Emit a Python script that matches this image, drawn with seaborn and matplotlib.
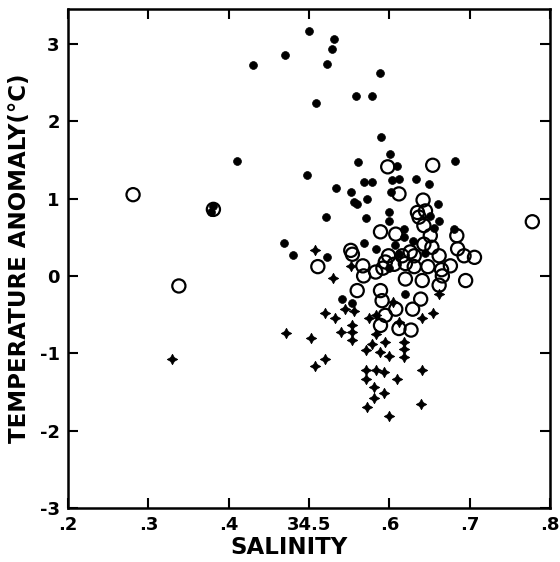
import matplotlib
matplotlib.use("Agg")
import matplotlib.pyplot as plt
import seaborn as sns

# filled dots
dot_sal = [0.500, 0.531, 0.529, 0.470, 0.430, 0.523, 0.589, 0.558, 0.579, 0.509,
           0.590, 0.410, 0.561, 0.601, 0.609, 0.682, 0.498, 0.534, 0.569, 0.579,
           0.552, 0.556, 0.560, 0.572, 0.602, 0.603, 0.612, 0.633, 0.649, 0.660,
           0.521, 0.571, 0.600, 0.600, 0.381, 0.378, 0.469, 0.480, 0.569, 0.523,
           0.680, 0.618, 0.618, 0.662, 0.583, 0.541, 0.620, 0.650, 0.655, 0.607,
           0.612, 0.600, 0.630, 0.645, 0.554]
dot_temp = [3.17, 3.06, 2.93, 2.86, 2.72, 2.74, 2.62, 2.32, 2.32, 2.23,
            1.80, 1.48, 1.47, 1.57, 1.42, 1.48, 1.30, 1.14, 1.22, 1.22,
            1.09, 0.95, 0.93, 0.99, 1.08, 1.24, 1.25, 1.25, 1.19, 0.93,
            0.76, 0.75, 0.82, 0.71, 0.90, 0.82, 0.43, 0.27, 0.43, 0.24,
            0.61, 0.61, 0.50, 0.71, 0.35, -0.30, -0.23, 0.78, 0.62, 0.40,
            0.28, 0.10, 0.45, 0.30, -0.35]

# open circles
circ_sal = [0.281, 0.778, 0.338, 0.381, 0.654, 0.598, 0.612, 0.642, 0.645, 0.637,
            0.643, 0.589, 0.684, 0.685, 0.693, 0.706, 0.554, 0.567, 0.511, 0.651,
            0.653, 0.599, 0.616, 0.631, 0.662, 0.676, 0.695, 0.552, 0.568, 0.560,
            0.589, 0.620, 0.641, 0.662, 0.635, 0.606, 0.620, 0.631, 0.648, 0.665,
            0.592, 0.583, 0.595, 0.608, 0.612, 0.627, 0.639, 0.589, 0.666, 0.591,
            0.629, 0.643, 0.595, 0.608, 0.626]
circ_temp = [1.05, 0.70, -0.13, 0.86, 1.43, 1.41, 1.06, 0.98, 0.84, 0.76,
             0.65, 0.57, 0.52, 0.35, 0.26, 0.24, 0.28, 0.13, 0.12, 0.52,
             0.37, 0.26, 0.26, 0.26, 0.26, 0.13, -0.06, 0.33, 0.00, -0.19,
             -0.19, -0.04, -0.06, -0.12, 0.82, 0.15, 0.16, 0.12, 0.12, 0.08,
             0.10, 0.05, -0.51, -0.43, -0.68, -0.70, -0.30, -0.64, 0.00, -0.32,
             -0.43, 0.41, 0.18, 0.54, 0.31]

# plus marks
plus_sal = [0.329, 0.471, 0.503, 0.508, 0.520, 0.530, 0.520, 0.532, 0.540, 0.553,
            0.553, 0.553, 0.545, 0.556, 0.552, 0.507, 0.571, 0.579, 0.571, 0.571,
            0.584, 0.593, 0.610, 0.641, 0.581, 0.593, 0.581, 0.572, 0.600, 0.640,
            0.654, 0.662, 0.575, 0.583, 0.589, 0.600, 0.604, 0.612, 0.641, 0.618,
            0.618, 0.618, 0.583, 0.594]
plus_temp = [-1.08, -0.74, -0.80, -1.16, -1.07, -0.03, -0.48, -0.54, -0.73, -0.64,
             -0.73, -0.83, -0.43, -0.46, 0.13, 0.33, -0.96, -0.88, -1.22, -1.33,
             -1.22, -1.24, -1.33, -1.21, -1.43, -1.51, -1.58, -1.69, -1.81, -1.65,
             -0.48, -0.23, -0.55, -0.51, -0.98, -1.03, -0.34, -0.60, -0.55, -0.85,
             -0.95, -1.05, -0.75, -0.85]

x_ticks = [0.2, 0.3, 0.4, 0.5, 0.6, 0.7, 0.8]
x_labels = [".2", ".3", ".4", "34.5", ".6", ".7", ".8"]
y_ticks = [-3, -2, -1, 0, 1, 2, 3]
y_labels = ["-3", "-2", "-1", "0", "1", "2", "3"]

sns.set_style("ticks")
plt.rcParams["font.family"] = ["DejaVu Sans"]
plt.rcParams.update({"text.color": "black", "axes.labelcolor": "black",
                     "xtick.color": "black", "ytick.color": "black",
                     "axes.edgecolor": "black"})

fig = plt.figure(figsize=(5.6, 5.62), dpi=100)
ax = fig.add_axes([68 / 560, 54 / 562, 482 / 560, 499 / 562])

# hollow circles: draw then clear the face so overlaps show through
sns.scatterplot(x=circ_sal, y=circ_temp, ax=ax, marker="o", s=90,
                color="black", edgecolor="black", linewidth=1.6, zorder=2)
ax.collections[-1].set_facecolor("none")
sns.scatterplot(x=dot_sal, y=dot_temp, ax=ax, marker="o", s=32,
                color="black", edgecolor="black", linewidth=0.5, zorder=3)
sns.scatterplot(x=plus_sal, y=plus_temp, ax=ax, marker=(4, 1, 0), s=55,
                color="black", edgecolor="black", linewidth=0.6, zorder=3)

ax.set_xlim(0.2, 0.8)
ax.set_ylim(-3, 3.45)
ax.set_xticks(x_ticks)
ax.set_xticklabels(x_labels)
ax.set_yticks(y_ticks)
ax.set_yticklabels(y_labels)
ax.tick_params(direction="in", length=7, width=1.5, top=True, right=True,
               labelsize=13, pad=6)
for lab in ax.get_xticklabels() + ax.get_yticklabels():
    lab.set_fontweight("bold")
for sp in ax.spines.values():
    sp.set_linewidth(1.8)
    sp.set_visible(True)

ax.set_xlabel("SALINITY", fontsize=16.5, fontweight="bold")
ax.set_ylabel("TEMPERATURE ANOMALY(°C)", fontsize=16.5, fontweight="bold")
ax.xaxis.set_label_coords(0.458, -0.056)
ax.yaxis.set_label_coords(-0.076, 0.5)

fig.savefig("out.png", dpi=100)
